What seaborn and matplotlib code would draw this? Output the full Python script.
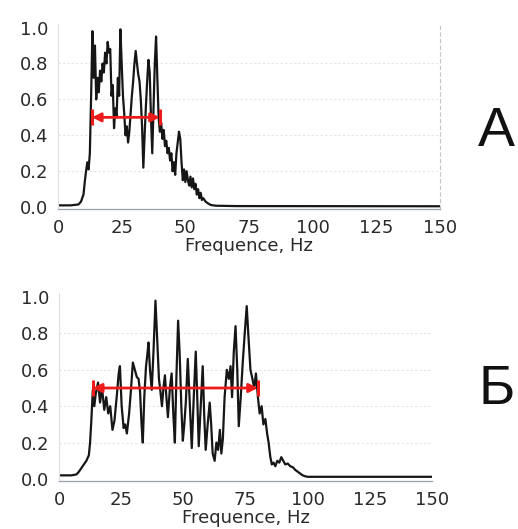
import matplotlib
matplotlib.use("Agg")
import matplotlib.pyplot as plt
import seaborn as sns
import pandas as pd

# ---------------- data ----------------
freq_a = [0, 5, 8, 9, 10, 10.5, 11, 11.5, 12, 12.5,
          13, 13.5, 14, 14.5, 15, 15.5, 16, 16.5, 17, 17.5,
          18, 18.5, 19, 19.5, 20, 20.5, 21, 21.5, 22, 22.5,
          23, 23.5, 24, 24.5, 25, 25.5, 26, 26.5, 27, 27.5,
          28, 28.5, 29, 29.5, 30, 30.5, 31, 31.5, 32, 32.5,
          33, 33.5, 34, 34.5, 35, 35.5, 36, 36.5, 37, 37.5,
          38, 38.5, 39, 39.5, 40, 40.5, 41, 41.5, 42, 42.5,
          43, 43.5, 44, 44.5, 45, 45.5, 46, 46.5, 47, 47.5,
          48, 48.5, 49, 49.5, 50, 50.5, 51, 51.5, 52, 52.5,
          53, 53.5, 54, 54.5, 55, 55.5, 56, 56.5, 57, 58,
          59, 60, 62, 70, 150]
power_a = [0.01, 0.01, 0.015, 0.03, 0.07, 0.14, 0.2, 0.25, 0.21, 0.3,
           0.62, 0.98, 0.72, 0.9, 0.6, 0.72, 0.64, 0.76, 0.7, 0.8,
           0.75, 0.86, 0.8, 0.92, 0.86, 0.88, 0.62, 0.68, 0.44, 0.55,
           0.5, 0.72, 0.62, 0.99, 0.8, 0.62, 0.52, 0.4, 0.45, 0.36,
           0.42, 0.52, 0.62, 0.7, 0.8, 0.87, 0.8, 0.74, 0.7, 0.6,
           0.45, 0.22, 0.4, 0.56, 0.7, 0.82, 0.75, 0.5, 0.3, 0.55,
           0.8, 0.95, 0.72, 0.5, 0.42, 0.47, 0.38, 0.43, 0.34, 0.37,
           0.3, 0.33, 0.26, 0.3, 0.2, 0.25, 0.18, 0.3, 0.36, 0.42,
           0.38, 0.25, 0.15, 0.21, 0.14, 0.2, 0.15, 0.12, 0.17, 0.11,
           0.16, 0.1, 0.13, 0.07, 0.1, 0.05, 0.08, 0.04, 0.05, 0.03,
           0.02, 0.012, 0.008, 0.006, 0.005]

freq_b = [0, 5, 7, 8, 9, 10, 11, 12, 12.5, 13,
          13.6, 14.2, 14.8, 15.7, 16.5, 17.3, 18.2, 19, 19.8, 20.6,
          21.5, 22.3, 23.2, 24, 24.5, 25.2, 26, 26.6, 27.3, 28.2,
          29, 29.7, 30.5, 31.3, 32, 32.6, 33.2, 33.7, 34.3, 35,
          35.5, 36, 36.6, 37.3, 38, 38.8, 39.5, 40.2, 40.8, 41.4,
          42, 42.6, 43.2, 43.8, 44.6, 45.3, 46, 46.6, 47.2, 47.9,
          48.5, 49.2, 49.8, 50.4, 51, 51.8, 52.5, 53.4, 54.2, 55,
          55.6, 56.2, 57, 57.8, 58.4, 59, 59.8, 60.6, 61.2, 61.8,
          62.6, 63.3, 64, 64.7, 65.3, 65.9, 66.6, 67.5, 68.3, 69,
          69.6, 70.3, 71, 71.7, 72.3, 73.1, 73.9, 74.7, 75.5, 76.2,
          77, 77.8, 78.5, 79.2, 80, 80.7, 81.5, 82.2, 83, 83.7,
          84.3, 85, 85.6, 86.3, 87, 87.8, 88.6, 89.4, 90.2, 91,
          92, 93, 94, 95, 96, 97, 98, 99, 100, 150]
power_b = [0.02, 0.02, 0.025, 0.04, 0.06, 0.08, 0.1, 0.13, 0.2, 0.32,
           0.49, 0.4, 0.47, 0.53, 0.42, 0.5, 0.38, 0.45, 0.36, 0.4,
           0.27, 0.32, 0.45, 0.58, 0.62, 0.4, 0.28, 0.3, 0.25, 0.36,
           0.5, 0.64, 0.6, 0.56, 0.55, 0.48, 0.3, 0.2, 0.45, 0.62,
           0.68, 0.75, 0.6, 0.49, 0.7, 0.98, 0.76, 0.55, 0.48, 0.4,
           0.5, 0.57, 0.45, 0.34, 0.5, 0.58, 0.35, 0.2, 0.55, 0.87,
           0.7, 0.4, 0.21, 0.3, 0.42, 0.66, 0.45, 0.17, 0.45, 0.7,
           0.45, 0.18, 0.4, 0.62, 0.35, 0.16, 0.3, 0.42, 0.3, 0.14,
           0.1, 0.2, 0.16, 0.27, 0.14, 0.22, 0.45, 0.6, 0.55, 0.62,
           0.45, 0.7, 0.84, 0.6, 0.29, 0.45, 0.64, 0.8, 0.95, 0.78,
           0.6, 0.55, 0.5, 0.58, 0.45, 0.36, 0.4, 0.3, 0.33, 0.25,
           0.2, 0.12, 0.08, 0.09, 0.07, 0.1, 0.09, 0.12, 0.1, 0.08,
           0.085, 0.07, 0.065, 0.05, 0.04, 0.03, 0.02, 0.015, 0.012, 0.012]

# bandwidth arrows (start Hz, end Hz, level)
band_a = [13.3, 40.0, 0.5]
band_b = [13.6, 80.0, 0.5]

x_ticks = [0, 25, 50, 75, 100, 125, 150]
y_ticks = [0.0, 0.2, 0.4, 0.6, 0.8, 1.0]
x_label = "Frequence, Hz"
panel_labels = ["А", "Б"]

# ---------------- plot ----------------
sns.set_theme(style="white")
plt.rcParams["font.family"] = ["DejaVu Sans"]

fig = plt.figure(figsize=(5.18, 5.29), dpi=100)
ax_a = fig.add_axes([0.112, 0.605, 0.7375, 0.3497])
ax_b = fig.add_axes([0.1139, 0.0911, 0.72, 0.3543])

RED = "#ee1b1b"
panels = [
    (ax_a, freq_a, power_a, band_a, panel_labels[0], True, 0.750),
    (ax_b, freq_b, power_b, band_b, panel_labels[1], False, 0.263),
]

for ax, fr, pw, band, lab, right_spine, lab_y in panels:
    df = pd.DataFrame({"f": fr, "p": pw})
    sns.lineplot(data=df, x="f", y="p", ax=ax, color="#161616", lw=1.6,
                 estimator=None, sort=False)
    ax.set_xlim(0, 150)
    ax.set_ylim(-0.01, 1.02)
    ax.set_xticks(x_ticks)
    ax.set_yticks(y_ticks)
    ax.set_yticklabels([f"{v:.1f}" for v in y_ticks])
    ax.tick_params(axis="both", length=0, labelsize=13, colors="#2a2a2a",
                   pad=7)
    ax.set_xlabel(x_label, fontsize=13, color="#2a2a2a", labelpad=0)
    ax.set_ylabel("")
    for yv in y_ticks[1:-1]:
        ax.axhline(yv, color="#e2e5ec", lw=0.8, ls=(0, (2, 2)), zorder=0)
    ax.spines["top"].set_visible(False)
    ax.spines["left"].set_color("#dcdfe6")
    ax.spines["left"].set_linewidth(0.8)
    ax.spines["bottom"].set_color("#9aa0ac")
    ax.spines["bottom"].set_linewidth(0.9)
    if right_spine:
        ax.spines["right"].set_color("#c4c4c4")
        ax.spines["right"].set_linestyle((0, (3, 3)))
        ax.spines["right"].set_linewidth(0.8)
    else:
        ax.spines["right"].set_visible(False)

    x0, x1, lvl = band
    ax.annotate("", xy=(x0, lvl), xytext=(x1, lvl),
                arrowprops=dict(arrowstyle="<|-|>", color=RED, lw=2,
                                mutation_scale=13, shrinkA=0, shrinkB=0),
                zorder=5)
    ax.plot([x0, x1], [lvl, lvl], ls="none", marker="|", ms=11, mew=2.2,
            color=RED, zorder=6)

    fig.text(0.958, lab_y, lab, fontsize=40, family="Liberation Sans",
             ha="center", va="center", color="#111111")

fig.savefig("out.png", dpi=100)
